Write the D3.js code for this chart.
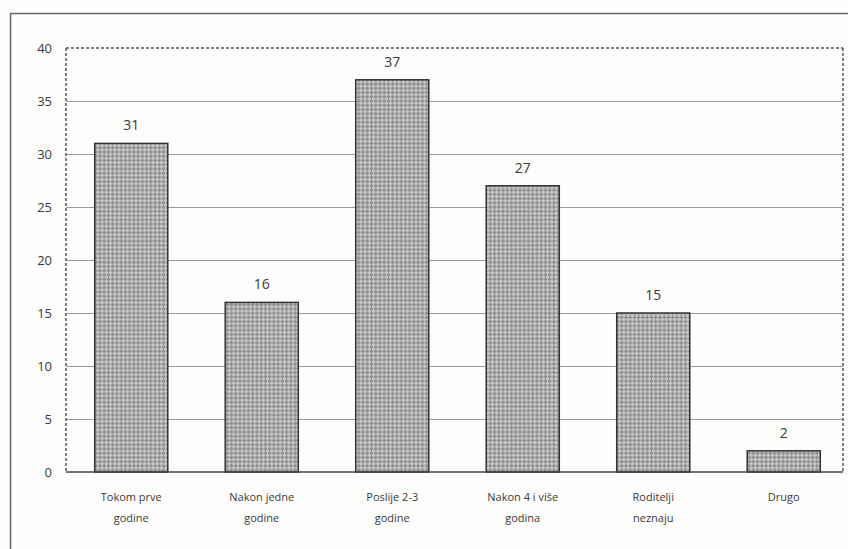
<!DOCTYPE html>
<html>
<head>
<meta charset="utf-8">
<script src="https://cdn.jsdelivr.net/npm/d3@7"></script>
<style>
  html, body { margin: 0; padding: 0; background: #fdfdfb; }
  svg { display: block; }
  text { font-family: "Open Sans", "DejaVu Sans", sans-serif; fill: #3a3a3a; }
</style>
</head>
<body>
<svg id="chart" width="848" height="549"></svg>
<script>
// Chart data
const categories = [
  ["Tokom prve", "godine"],
  ["Nakon jedne", "godine"],
  ["Poslije 2-3", "godine"],
  ["Nakon 4 i više", "godina"],
  ["Roditelji", "neznaju"],
  ["Drugo"]
];
const values = [31, 16, 37, 27, 15, 2];
const yTicks = [0, 5, 10, 15, 20, 25, 30, 35, 40];

const svg = d3.select("#chart");
const margin = { left: 66, right: 5, top: 48, bottom: 77 };
const W = 848, H = 549;
const plotW = W - margin.left - margin.right;
const plotH = H - margin.top - margin.bottom;

// Checkered fill used for the bars
const defs = svg.append("defs");
const pat = defs.append("pattern")
  .attr("id", "checks")
  .attr("patternUnits", "userSpaceOnUse")
  .attr("width", 6).attr("height", 6)
  .attr("patternTransform", "rotate(45)");
pat.append("rect").attr("width", 6).attr("height", 6).attr("fill", "#c8c5c8");
pat.append("rect").attr("width", 3).attr("height", 3).attr("fill", "#929092");
pat.append("rect").attr("x", 3).attr("y", 3).attr("width", 3).attr("height", 3).attr("fill", "#929092");

// Outer frame (left and top edges)
svg.append("line").attr("x1", 10.5).attr("x2", 10.5).attr("y1", 13).attr("y2", H)
  .attr("stroke", "#666").attr("stroke-width", 1.5);
svg.append("line").attr("x1", 10).attr("x2", W).attr("y1", 13.5).attr("y2", 13.5)
  .attr("stroke", "#666").attr("stroke-width", 1.5);

const g = svg.append("g").attr("transform", `translate(${margin.left},${margin.top})`);

const x = d3.scaleBand()
  .domain(categories.map((d, i) => i))
  .range([0, plotW + 6])
  .paddingInner(0.44)
  .paddingOuter(0.22);

const y = d3.scaleLinear().domain([0, 40]).range([plotH, 0]);

// Horizontal gridlines
g.append("g").selectAll("line")
  .data(yTicks.filter(t => t > 0 && t < 40))
  .join("line")
  .attr("x1", 0).attr("x2", plotW)
  .attr("y1", d => Math.round(y(d)) + 0.5).attr("y2", d => Math.round(y(d)) + 0.5)
  .attr("stroke", "#9a9a9a").attr("stroke-width", 1.2);

// Dashed plot-area border (top, left, right)
const border = g.append("g").attr("stroke", "#555").attr("stroke-width", 1.5)
  .attr("stroke-dasharray", "3,2").attr("fill", "none");
border.append("line").attr("x1", 0).attr("x2", plotW).attr("y1", y(40)).attr("y2", y(40));
border.append("line").attr("x1", 0).attr("x2", 0).attr("y1", y(40)).attr("y2", y(0));
border.append("line").attr("x1", plotW).attr("x2", plotW).attr("y1", y(40)).attr("y2", y(0));

// Y axis labels
const yAxis = d3.axisLeft(y).tickValues(yTicks).tickSize(0).tickPadding(14);
const ya = g.append("g").call(yAxis);
ya.select(".domain").remove();
ya.selectAll("text").style("font-size", "13px").attr("fill", "#3a3a3a")
  .style("font-family", "'Open Sans', 'DejaVu Sans', sans-serif");

// Bars
g.append("g").selectAll("rect")
  .data(values)
  .join("rect")
  .attr("x", (d, i) => x(i))
  .attr("y", d => y(d))
  .attr("width", x.bandwidth())
  .attr("height", d => y(0) - y(d))
  .attr("fill", "url(#checks)")
  .attr("stroke", "#333").attr("stroke-width", 1.5);

// Baseline
g.append("line").attr("x1", 0).attr("x2", plotW)
  .attr("y1", y(0)).attr("y2", y(0))
  .attr("stroke", "#444").attr("stroke-width", 1.5);

// Value labels
g.append("g").selectAll("text")
  .data(values)
  .join("text")
  .attr("x", (d, i) => x(i) + x.bandwidth() / 2)
  .attr("y", d => y(d) - 13)
  .attr("text-anchor", "middle")
  .style("font-size", "14px")
  .text(d => d);

// Category labels
const cat = g.append("g").selectAll("text")
  .data(categories)
  .join("text")
  .attr("x", (d, i) => x(i) + x.bandwidth() / 2)
  .attr("y", plotH + 29)
  .attr("text-anchor", "middle")
  .style("font-size", "11px");
cat.selectAll("tspan")
  .data(d => d)
  .join("tspan")
  .attr("x", function () { return d3.select(this.parentNode).attr("x"); })
  .attr("dy", (d, i) => i === 0 ? 0 : 21)
  .text(d => d);
</script>
</body>
</html>
